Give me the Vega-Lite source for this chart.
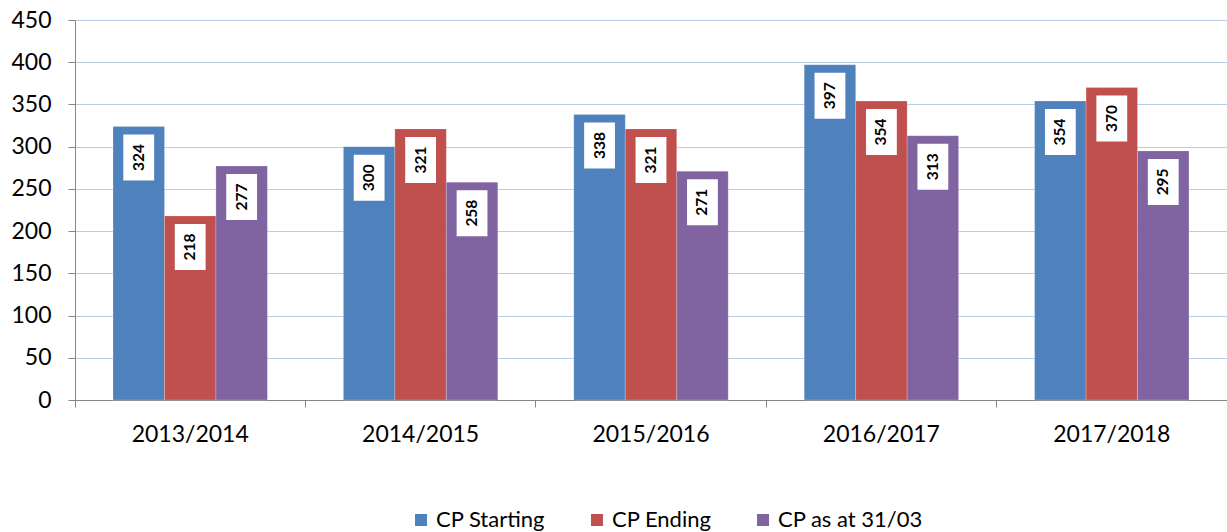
{
  "$schema": "https://vega.github.io/schema/vega-lite/v6.json",
  "width": 1152,
  "height": 380,
  "autosize": {"type": "none"},
  "padding": {"left": 75, "top": 20, "right": 0, "bottom": 132},
  "background": "white",
  "config": {
    "view": {"stroke": null},
    "font": "Lato",
    "axis": {"labelFont": "Lato", "labelColor": "black"}
  },
  "data": {
    "values": [
      {"year": "2013/2014", "series": "CP Starting", "value": 324},
      {"year": "2013/2014", "series": "CP Ending", "value": 218},
      {"year": "2013/2014", "series": "CP as at 31/03", "value": 277},
      {"year": "2014/2015", "series": "CP Starting", "value": 300},
      {"year": "2014/2015", "series": "CP Ending", "value": 321},
      {"year": "2014/2015", "series": "CP as at 31/03", "value": 258},
      {"year": "2015/2016", "series": "CP Starting", "value": 338},
      {"year": "2015/2016", "series": "CP Ending", "value": 321},
      {"year": "2015/2016", "series": "CP as at 31/03", "value": 271},
      {"year": "2016/2017", "series": "CP Starting", "value": 397},
      {"year": "2016/2017", "series": "CP Ending", "value": 354},
      {"year": "2016/2017", "series": "CP as at 31/03", "value": 313},
      {"year": "2017/2018", "series": "CP Starting", "value": 354},
      {"year": "2017/2018", "series": "CP Ending", "value": 370},
      {"year": "2017/2018", "series": "CP as at 31/03", "value": 295}
    ]
  },
  "encoding": {
    "x": {
      "field": "year", "type": "nominal", "title": null,
      "scale": {"paddingInner": 0.33, "paddingOuter": 0.165},
      "axis": {
        "labelAngle": 0, "labelFontSize": 23, "labelPadding": 16,
        "bandPosition": -0.246, "tickSize": 7, "tickColor": "#868686",
        "domainColor": "#868686", "grid": false
      }
    },
    "xOffset": {
      "field": "series", "type": "nominal",
      "sort": ["CP Starting", "CP Ending", "CP as at 31/03"],
      "scale": {"paddingInner": 0, "paddingOuter": 0}
    },
    "y": {
      "field": "value", "type": "quantitative", "title": null,
      "scale": {"domain": [0, 450], "nice": false},
      "axis": {
        "values": [0, 50, 100, 150, 200, 250, 300, 350, 400, 450],
        "labelFontSize": 23, "labelPadding": 17, "tickSize": 7,
        "tickColor": "#868686", "domainColor": "#868686",
        "gridColor": "#B9CDE5", "gridWidth": 1.2
      }
    }
  },
  "layer": [
    {
      "mark": {"type": "bar", "stroke": "white", "strokeWidth": 0.5, "strokeOpacity": 0.4},
      "encoding": {
        "color": {
          "field": "series", "type": "nominal",
          "sort": ["CP Starting", "CP Ending", "CP as at 31/03"],
          "scale": {
            "domain": ["CP Starting", "CP Ending", "CP as at 31/03"],
            "range": ["#4F81BD", "#C0504D", "#8064A2"]
          },
          "legend": {
            "title": null, "orient": "none", "direction": "horizontal",
            "legendX": 335, "legendY": 489,
            "symbolType": "square", "symbolSize": 144, "symbolStrokeWidth": 0,
            "labelFontSize": 22, "labelColor": "black", "labelFont": "Lato",
            "gridAlign": "each", "columnPadding": 40, "labelOffset": 4
          }
        }
      }
    },
    {
      "mark": {
        "type": "point", "filled": true, "color": "white", "opacity": 1,
        "shape": "M-0.67,-1H0.67V1H-0.67Z", "size": 2116,
        "yOffset": 31, "strokeWidth": 0
      }
    },
    {
      "mark": {
        "type": "text", "angle": 270, "fontSize": 15.5, "fontWeight": "bold",
        "color": "black", "yOffset": 31, "align": "center", "baseline": "middle"
      },
      "encoding": {"text": {"field": "value", "type": "quantitative"}}
    }
  ]
}
